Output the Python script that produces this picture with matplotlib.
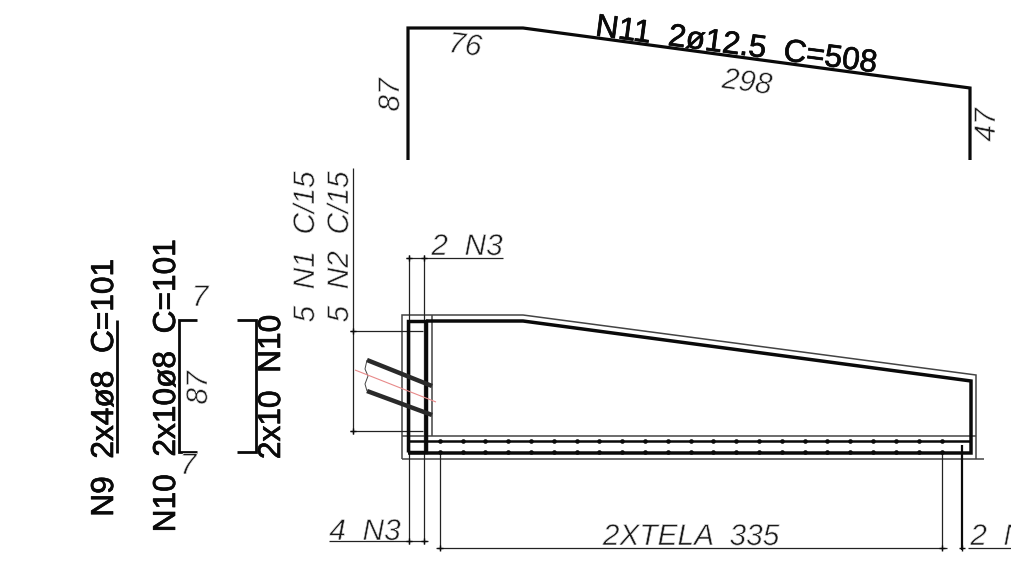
import matplotlib
matplotlib.use("Agg")
import matplotlib.pyplot as plt
import matplotlib.patheffects as pe

W, H = 1012, 568
BOLD = "#0a0a0a"
THIN = "#1a1a1a"
RED = "#e88a8a"

top_bar = [(408,160),(408,28),(523,28),(970,88),(970,160)]
concrete = [(402,459),(402,315),(523,315),(976,375),(976,459)]
concrete_base = [(402,459),(984,459)]
concrete_mid = [(402,436),(976,436)]
concrete_web = [(432,315),(432,436)]
slab_rebar = [(426,321),(523,321),(971,381),(971,453),(408,453)]
slab_upper = [(408,441),(970,441)]
stirrup = [(408,452),(408,321),(426,321),(426,452),(408,452)]
tube_a = [(367,360),(432,386)]
tube_b = [(367,391),(432,415)]
tube_end = [(367,360),(365,369),(368,376),(365,384),(367,391)]
pipe_axis = [(355,370),(436,402)]
n9_line = [(117,320),(117,453)]
n10_hook = [(197,320),(179,320),(179,452),(197,452)]
n10_hook_r = [(237,320),(256,320),(256,452),(237,452)]

dim_thin = [
    [(353,168),(353,434)], [(350,331),(423,331)], [(350,431),(423,431)],
    [(409,255),(409,544)], [(424,255),(424,544)], [(406,258),(503,258)],
    [(329,541),(428,541)], [(440,452),(440,550)], [(942,452),(942,550)],
    [(436,548),(947,548)], [(968,548),(1012,548)],
]
dim_bold = [[(962,445),(962,550)]]

ticks_x = [409,424,409,424,353,353,440,942,962]
ticks_y = [258,258,541,541,331,431,548,548,548]

rebar_x = [440,463,485,508,531,554,577,599,622,645,668,691,713,736,759,782,805,827,850,873,896,919,942]
rebar_top_y = [441]
rebar_bot_y = [452]

bold_labels = [
    ("N11  2ø12.5  C=508", 736, 46, -7.5, 22.8),
    ("N9  2x4ø8  C=101", 105, 388, 90, 22.8),
    ("N10  2x10ø8  C=101", 167, 386, 90, 22.8),
    ("2x10  N10", 272, 387, 90, 22.8),
]
thin_labels = [
    ("76", 465, 46, -7, 21.5),
    ("298", 747, 83, -7.5, 21.5),
    ("87", 391, 95, 90, 21.5),
    ("47", 987, 125, 90, 21.5),
    ("5  N1  C/15", 306, 247, 90, 21.5),
    ("5  N2  C/15", 340, 247, 90, 21.5),
    ("2  N3", 467, 247, 0, 21.5),
    ("4  N3", 365, 532, 0, 21.5),
    ("2XTELA  335", 691, 537, 0, 21.5),
    ("2  N3", 1006, 537, 0, 21.5),
    ("87", 199, 388, 90, 21.5),
    ("7", 200, 298, 0, 21.5),
    ("7", 188, 466, 0, 21.5),
]

fig = plt.figure(figsize=(W/100, H/100), dpi=100, facecolor="white")
ax = fig.add_axes([0, 0, 1, 1])
ax.set_xlim(0, W)
ax.set_ylim(H, 0)
ax.axis("off")

def draw(path, lw, color):
    xs, ys = zip(*path)
    ax.plot(xs, ys, lw=lw, color=color, solid_capstyle="butt", solid_joinstyle="miter")

for p in (concrete, concrete_base, concrete_mid, concrete_web):
    draw(p, 1.1, "#444444")
for p in dim_thin:
    draw(p, 0.9, "#222222")
for p in dim_bold:
    draw(p, 1.6, BOLD)
draw(top_bar, 2.3, BOLD)
draw(slab_rebar, 2.5, BOLD)
draw(slab_upper, 1.8, BOLD)
draw(stirrup, 2.5, BOLD)
draw(tube_a, 3.2, "#2a2a2a")
draw(tube_b, 3.2, "#2a2a2a")
draw(tube_end, 0.7, "#444444")
draw(pipe_axis, 0.8, RED)
draw(n9_line, 2.0, BOLD)
draw(n10_hook, 2.0, BOLD)
draw(n10_hook_r, 2.0, BOLD)

ax.scatter(ticks_x, ticks_y, s=14, marker="+", color=BOLD, linewidths=1.0, zorder=4)
ax.scatter(rebar_x, rebar_top_y*len(rebar_x), s=11, color=BOLD, linewidths=0, zorder=4)
ax.scatter(rebar_x, rebar_bot_y*len(rebar_x), s=11, color=BOLD, linewidths=0, zorder=4)

for s, x, y, r, fs in bold_labels:
    ax.text(x, y, s, rotation=r, fontsize=fs, family="Liberation Sans", color=BOLD,
            ha="center", va="center", rotation_mode="anchor",
            path_effects=[pe.withStroke(linewidth=0.5, foreground=BOLD)])
erode = [pe.Normal(), pe.Stroke(linewidth=0.5, foreground="white")]
for s, x, y, r, fs in thin_labels:
    ax.text(x, y, s, rotation=r, fontsize=fs, family="Liberation Sans", style="italic",
            color=THIN, ha="center", va="center", rotation_mode="anchor",
            clip_on=True, path_effects=erode)

fig.savefig("out.png", dpi=100, facecolor="white")
